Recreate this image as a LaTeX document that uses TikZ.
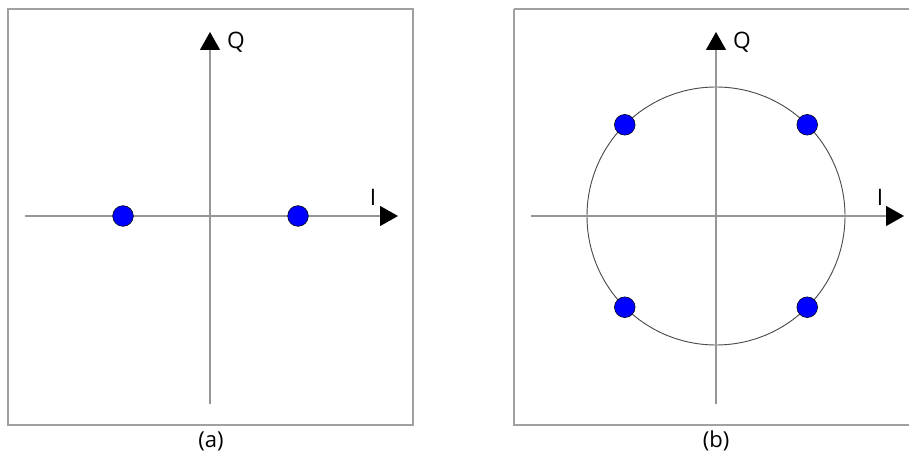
\documentclass[tikz,border=0pt]{standalone}
\usepackage{fontspec}
\setmainfont{Open Sans}
\usepackage{tikz}
\usetikzlibrary{arrows.meta,positioning,calc}
\definecolor{framegray}{RGB}{160,160,160}
\definecolor{axisgray}{RGB}{150,150,150}
\definecolor{symblue}{RGB}{0,0,255}
\tikzset{
  panel/.style={draw=framegray, line width=1.5pt},
  axis/.style={draw=axisgray, line width=0.9pt, -{Triangle[length=13.5pt, width=15pt, color=black, fill=black]}},
  ring/.style={draw=black!70, line width=0.7pt},
  symdot/.style={circle, draw=black, line width=0.4pt, fill=symblue, minimum size=15.5pt, inner sep=0pt},
  axlabel/.style={font=\fontsize{17}{19}\selectfont},
  caption/.style={font=\fontsize{16.5}{19}\selectfont},
}
\begin{document}
\begin{tikzpicture}[x=0.75pt, y=-0.75pt]
  \useasboundingbox (0,0) rectangle (909,459);

  % panel (a): BPSK
  \draw[panel] (8,9) rectangle (413,425);
  \coordinate (aW) at (25,216);
  \coordinate (aE) at (398,216);
  \coordinate (aS) at (210,404);
  \coordinate (aN) at (210,32);
  \draw[axis] (aW) -- (aE);
  \draw[axis] (aS) -- (aN);
  \node[axlabel] (aQ) at (236,42) {Q};
  \node[axlabel] (aI) at (373,197) {I};
  \node[symdot] (a1) at (123,216) {};
  \node[symdot] (a2) at (298,216) {};
  \node[caption] (acap) at (211,441) {(a)};

  % panel (b): QPSK
  \draw[panel] (514,9) -- (514,425) -- (915,425);
  \draw[panel] (514,9) -- (915,9);
  \coordinate (bW) at (531,216);
  \coordinate (bE) at (904,216);
  \coordinate (bS) at (716,404);
  \coordinate (bN) at (716,32);
  \coordinate (bO) at (716,216);
  \draw[ring] (bO) circle[radius=129];
  \draw[axis] (bW) -- (bE);
  \draw[axis] (bS) -- (bN);
  \node[axlabel] (bQ) at (742,42) {Q};
  \node[axlabel] (bI) at (880,197) {I};
  \foreach \n/\a in {1/45, 2/135, 3/225, 4/315} {
    \node[symdot] (b\n) at ($(bO)+(\a:129)$) {};
  }
  \node[caption] (bcap) at (716,441) {(b)};

\end{tikzpicture}
\end{document}
